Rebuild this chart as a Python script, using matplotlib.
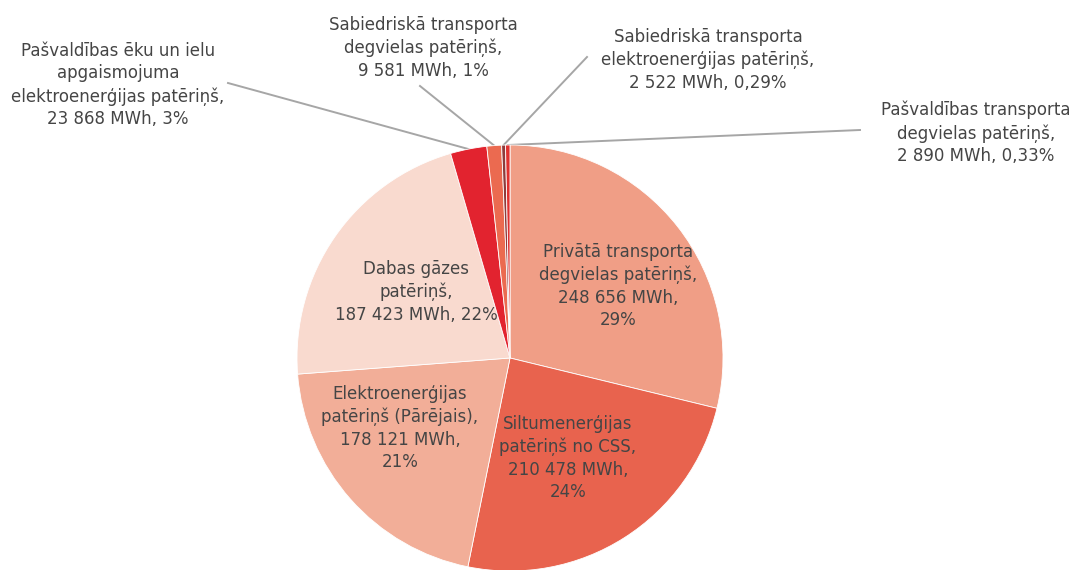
import matplotlib
matplotlib.use("Agg")
import matplotlib.pyplot as plt
import numpy as np

categories = [
    "Privātā transporta\ndegvielas patēriņš,",
    "Siltumenerģijas\npatēriņš no CSS,",
    "Elektroenerģijas\npatēriņš (Pārējais),",
    "Dabas gāzes\npatēriņš,",
    "Pašvaldības ēku un ielu\napgaismojuma\nelektroenerģijas patēriņš,",
    "Sabiedriskā transporta\ndegvielas patēriņš,",
    "Sabiedriskā transporta\nelektroenerģijas patēriņš,",
    "Pašvaldības transporta\ndegvielas patēriņš,",
]
values_mwh = [248656, 210478, 178121, 187423, 23868, 9581, 2522, 2890]
value_labels = ["248 656 MWh,\n29%", "210 478 MWh,\n24%", "178 121 MWh,\n21%",
                "187 423 MWh, 22%", "23 868 MWh, 3%", "9 581 MWh, 1%",
                "2 522 MWh, 0,29%", "2 890 MWh, 0,33%"]
colors = ["#F09E86", "#E8634E", "#F2AE98", "#F9DACF", "#E2232F", "#EB6A50", "#8E3B3B", "#E0302F"]

W, H = 1076, 570
fig = plt.figure(figsize=(W / 100, H / 100), dpi=100)
ax = fig.add_axes([0, 0, 1, 1])

cx, cy, R = 510, H - 358, 213
wedges, _ = ax.pie(values_mwh, colors=colors, startangle=90, counterclock=False,
                   center=(cx, cy), radius=R, frame=True,
                   wedgeprops=dict(edgecolor="white", linewidth=0.6))
ax.set_xlim(0, W)
ax.set_ylim(0, H)
ax.set_aspect("equal")
ax.axis("off")

font = dict(family=["DejaVu Sans"], fontsize=12, color="#454545",
            ha="center", va="center", linespacing=1.33)

# inner labels (pixel positions of label centres)
inner_pos = [(618, 286), (568, 458), (400, 428), (416, 292)]
for i, (px, py) in enumerate(inner_pos):
    ax.text(px, H - py, categories[i] + "\n" + value_labels[i], **font)

# outer labels with leader lines
outer_pos = [(118, 85), (423, 48), (708, 60), (976, 133)]
line_start = [(228, 83), (420, 86), (587, 57), (860, 130)]
for k, i in enumerate(range(4, 8)):
    px, py = outer_pos[k]
    ax.text(px, H - py, categories[i] + "\n" + value_labels[i], **font)
    w = wedges[i]
    mid = np.deg2rad((w.theta1 + w.theta2) / 2)
    ex, ey = cx + R * np.cos(mid), cy + R * np.sin(mid)
    sx, sy = line_start[k]
    ax.plot([sx, ex], [H - sy, ey], color="#A6A6A6", lw=1.4, zorder=0.5)

fig.savefig("out.png", dpi=100)
